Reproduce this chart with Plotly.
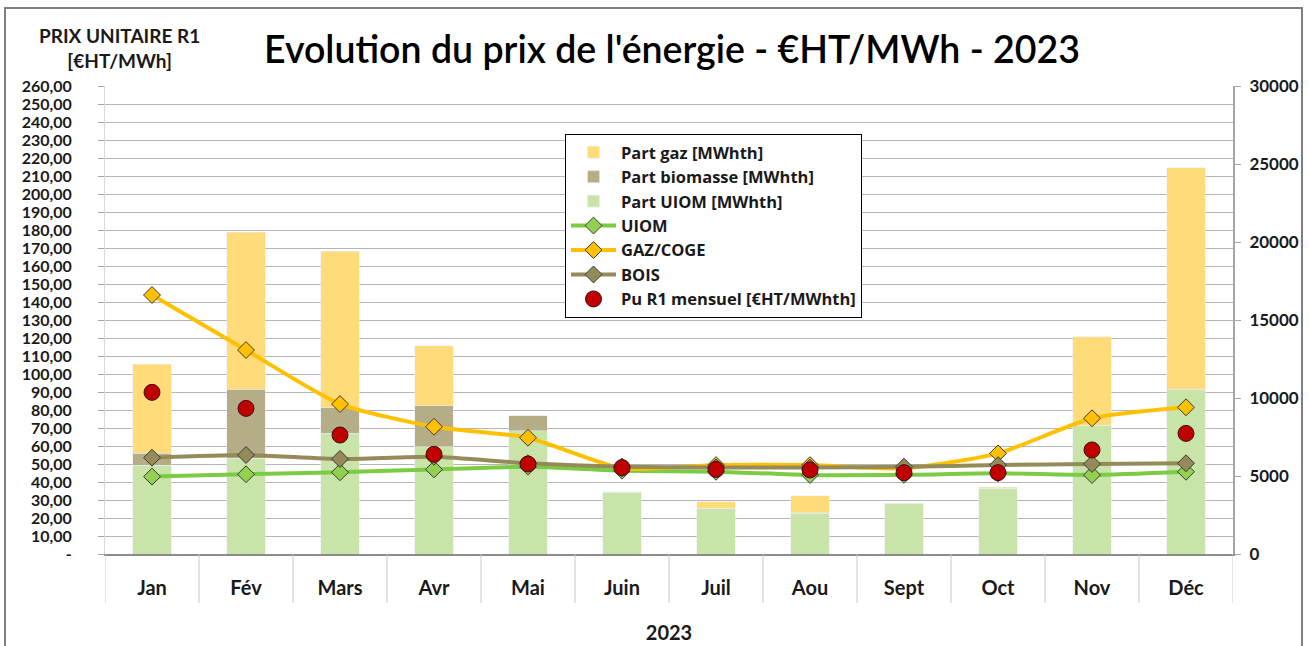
import plotly.graph_objects as go

months = ["Jan", "Fév", "Mars", "Avr", "Mai", "Juin", "Juil", "Aou", "Sept", "Oct", "Nov", "Déc"]

# Bars (MWhth, right axis)
part_uiom = [5700, 6150, 7740, 6880, 7900, 3950, 2930, 2600, 3250, 4230, 8250, 10550]
part_biomasse = [770, 4400, 1640, 2610, 960, 0, 0, 40, 0, 0, 0, 0]
part_gaz = [5700, 10090, 10040, 3860, 0, 50, 420, 1100, 0, 50, 5680, 14200]

# Lines (€HT/MWh, left axis)
uiom = [43.0, 44.3, 45.4, 47.0, 48.5, 46.3, 45.7, 43.9, 44.0, 44.8, 43.9, 45.7]
gaz_coge = [143.9, 113.3, 83.3, 70.7, 64.6, 47.6, 49.4, 49.4, 47.6, 55.9, 75.4, 81.5]
bois = [53.5, 55.0, 52.8, 54.0, 50.4, 48.5, 48.1, 48.0, 48.5, 49.4, 50.0, 50.4]
pu_r1 = [89.8, 80.9, 66.1, 55.4, 50.0, 48.0, 47.0, 46.7, 45.2, 45.2, 57.8, 67.0]

left_ticks = list(range(0, 261, 10))
left_text = ["-" if v == 0 else f"{v},00" for v in left_ticks]
right_ticks = list(range(0, 30001, 5000))

W, H = 1309, 646
L, R, T, B = 105, 76, 86, 92
pw, ph = W - L - R, H - T - B

FONT = "Lato, Open Sans, sans-serif"

fig = go.Figure()

fig.add_trace(go.Bar(x=months, y=part_uiom, name="Part UIOM [MWhth]", marker_color="#C8E4A9",
                     yaxis="y", legendrank=3))
fig.add_trace(go.Bar(x=months, y=part_biomasse, name="Part biomasse [MWhth]", marker_color="#B5AD88",
                     yaxis="y", legendrank=2))
fig.add_trace(go.Bar(x=months, y=part_gaz, name="Part gaz [MWhth]", marker_color="#FFDB7A",
                     yaxis="y", legendrank=1))

fig.add_trace(go.Scatter(x=months, y=uiom, name="UIOM", mode="lines+markers", yaxis="y2",
                         line=dict(color="#7DCB45", width=4, shape="spline", smoothing=0.6),
                         marker=dict(symbol="diamond", size=13, color="#92D050",
                                     line=dict(color="#3a3a3a", width=1)), legendrank=4))
fig.add_trace(go.Scatter(x=months, y=gaz_coge, name="GAZ/COGE", mode="lines+markers", yaxis="y2",
                         line=dict(color="#FFC000", width=4, shape="spline", smoothing=0.6),
                         marker=dict(symbol="diamond", size=13, color="#FFC000",
                                     line=dict(color="#3a3a3a", width=1)), legendrank=5))
fig.add_trace(go.Scatter(x=months, y=bois, name="BOIS", mode="lines+markers", yaxis="y2",
                         line=dict(color="#958A5A", width=4, shape="spline", smoothing=0.6),
                         marker=dict(symbol="diamond", size=13, color="#958A5A",
                                     line=dict(color="#3a3a3a", width=1)), legendrank=6))
fig.add_trace(go.Scatter(x=months, y=pu_r1, name="Pu R1 mensuel [€HT/MWhth]", mode="markers", yaxis="y2",
                         marker=dict(symbol="circle", size=16, color="#C00000",
                                     line=dict(color="#3a1010", width=1)), legendrank=7))


def px_x(x):
    return (x - L) / pw


def px_y(y):
    return (H - B - y) / ph


# category separators below the axis (Excel-style label boxes)
separators = [dict(type="line", xref="x", yref="paper", x0=i - 0.5, x1=i - 0.5,
                   y0=0, y1=px_y(603), line=dict(color="#c8c8c8", width=1))
              for i in range(len(months) + 1)]

fig.update_layout(
    width=W, height=H,
    margin=dict(l=L, r=R, t=T, b=B, pad=0, autoexpand=False),
    paper_bgcolor="white", plot_bgcolor="white",
    barmode="stack", bargap=0.59,
    font=dict(family=FONT, color="#1a1a1a"),
    title=dict(text="Evolution du prix de l'énergie - €HT/MWh - 2023",
               x=672 / W, xanchor="center", y=1 - 50 / H, yanchor="middle",
               font=dict(size=37.5, family=FONT, color="#000000", weight=600)),
    showlegend=True,
    legend=dict(x=px_x(565), y=px_y(134), xanchor="left", yanchor="top",
                traceorder="normal",
                bgcolor="white", bordercolor="#000000", borderwidth=1,
                font=dict(size=16.5, color="#1a1a1a", family="Open Sans, sans-serif", weight=700),
                tracegroupgap=0, itemwidth=45),
    xaxis=dict(type="category", range=[-0.5, len(months) - 0.5],
               showline=True, linecolor="#8c8c8c", linewidth=2,
               ticks="", automargin=False,
               tickfont=dict(size=20, family=FONT, weight="bold", color="#1a1a1a"),
               ticklabelstandoff=15,
               title=dict(text="2023", font=dict(size=20, family=FONT, weight="bold",
                                                 color="#1a1a1a"), standoff=28),
               showgrid=False),
    yaxis=dict(side="right", range=[0, 30000], tickvals=right_ticks, automargin=False,
               ticktext=[str(v) for v in right_ticks], showline=True, linecolor="#a6a6a6",
               linewidth=2, ticks="outside", ticklen=6, tickcolor="#a6a6a6",
               tickfont=dict(size=17, family=FONT, weight="bold", color="#1a1a1a"),
               ticklabelstandoff=5, showgrid=False, zeroline=False),
    yaxis2=dict(side="left", overlaying="y", range=[0, 260], tickvals=left_ticks, ticktext=left_text,
                automargin=False,
                showline=True, linecolor="#d9d9d9", linewidth=1, ticks="outside", ticklen=6,
                tickcolor="#a6a6a6",
                tickfont=dict(size=16, family=FONT, weight="bold", color="#1a1a1a"),
                ticklabelstandoff=23, showgrid=True, gridcolor="#b5b5b5", gridwidth=1,
                zeroline=False),
    annotations=[dict(text="PRIX UNITAIRE R1<br>[€HT/MWh]", xref="paper", yref="paper",
                      x=px_x(119), y=px_y(48), xanchor="center", yanchor="middle",
                      showarrow=False, align="center",
                      font=dict(size=19, family=FONT, weight="bold", color="#1a1a1a"))],
    shapes=[dict(type="rect", xref="paper", yref="paper",
                 x0=px_x(5), x1=px_x(1302), y0=px_y(700), y1=px_y(8),
                 line=dict(color="#7f7f7f", width=2), fillcolor="rgba(0,0,0,0)", layer="below")]
           + separators,
)

fig.write_html("out.html", post_script="document.body.style.margin='0';",
               config={"displayModeBar": False})
